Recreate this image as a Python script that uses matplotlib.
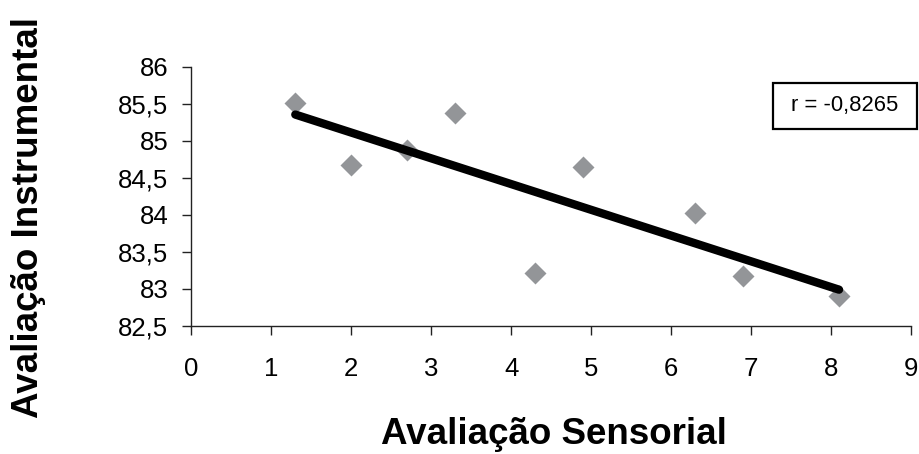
import numpy as np
import matplotlib.pyplot as plt
from matplotlib.patches import Rectangle

plt.rcParams['font.family'] = ['Liberation Sans', 'DejaVu Sans']

# sensorial score vs instrumental reading
sensorial = [1.3, 2.0, 2.7, 3.3, 4.3, 4.9, 6.3, 6.9, 8.1]
instrumental = [85.51, 84.68, 84.88, 85.38, 83.22, 84.64, 84.03, 83.18, 82.90]
x_ticks = [0, 1, 2, 3, 4, 5, 6, 7, 8, 9]
y_ticks = [82.5, 83, 83.5, 84, 84.5, 85, 85.5, 86]
r_label = "r = -0,8265"

fig = plt.figure(figsize=(9.19, 4.54), dpi=100)
ax = fig.add_axes([0.2082, 0.282, 0.7831, 0.571])

# linear trend line over the data range
slope, intercept = np.polyfit(sensorial, instrumental, 1)
xs = np.array([min(sensorial), max(sensorial)])
ax.plot(xs, slope * xs + intercept, color='black', lw=6,
        solid_capstyle='round', zorder=3)
ax.plot(sensorial, instrumental, linestyle='none', marker='D', ms=11,
        color='#939598', mec='none', zorder=2, clip_on=False)

ax.set_xlim(0, 9)
ax.set_ylim(82.5, 86)
ax.set_xticks(x_ticks)
ax.set_yticks(y_ticks)
ax.set_xticklabels([str(v) for v in x_ticks])
ax.set_yticklabels([f"{v:g}".replace('.', ',') for v in y_ticks])

for side in ['top', 'right']:
    ax.spines[side].set_visible(False)
for side in ['left', 'bottom']:
    ax.spines[side].set_linewidth(1.0)
    ax.spines[side].set_color('#222222')
ax.tick_params(axis='both', direction='out', length=6.5, width=1.0,
               color='#222222', labelsize=18.5)
ax.tick_params(axis='y', pad=10)
ax.tick_params(axis='x', pad=16)

fig.text(0.603, 0.043, 'Avaliação Sensorial', fontsize=26.5, fontweight='bold',
         ha='center', va='center')
fig.text(0.0305, 0.522, 'Avaliação Instrumental', fontsize=26.5, fontweight='bold',
         ha='center', va='center', rotation=90)

# correlation box
fig.patches.append(Rectangle((773 / 919, 1 - 129.3 / 454), 144 / 919, 46.6 / 454,
                             transform=fig.transFigure, fill=False,
                             lw=1.6, edgecolor='black'))
fig.text(845 / 919, 1 - 106 / 454, r_label, fontsize=15.8,
         ha='center', va='center')

fig.savefig('out.png', dpi=100)
